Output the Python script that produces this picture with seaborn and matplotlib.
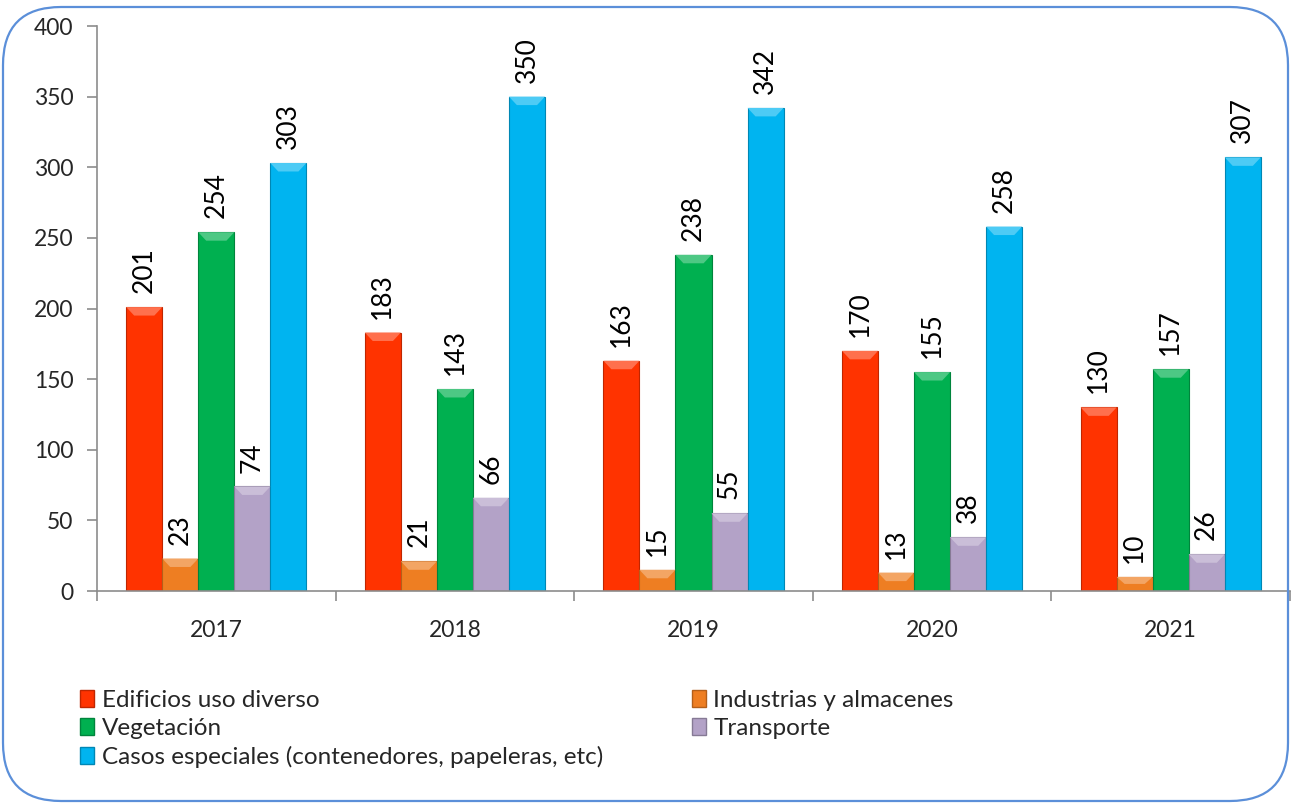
import numpy as np
import pandas as pd
import matplotlib.pyplot as plt
import seaborn as sns
from matplotlib.patches import FancyBboxPatch, Polygon, Patch
from matplotlib.colors import to_rgb

# Data
years = ['2017', '2018', '2019', '2020', '2021']
categories = ['Edificios uso diverso', 'Industrias y almacenes', 'Vegetación',
              'Transporte', 'Casos especiales (contenedores, papeleras, etc)']
edificios = [201, 183, 163, 170, 130]
industrias = [23, 21, 15, 13, 10]
vegetacion = [254, 143, 238, 155, 157]
transporte = [74, 66, 55, 38, 26]
especiales = [303, 350, 342, 258, 307]
colors = ['#FF3300', '#EE7E22', '#00B050', '#B3A2C7', '#00B4F0']

series = [edificios, industrias, vegetacion, transporte, especiales]
rows = []
for cat, vals in zip(categories, series):
    for yr, v in zip(years, vals):
        rows.append({'year': yr, 'cat': cat, 'value': v})
df = pd.DataFrame(rows)

sns.set_theme(style='white')
plt.rcParams['font.family'] = ['Lato', 'DejaVu Sans']

fig = plt.figure(figsize=(12.92, 8.05), dpi=100)
ax = fig.add_axes([97 / 1292, 1 - 591 / 805, (1290 - 97) / 1292, (591 - 26) / 805])

sns.barplot(data=df, x='year', y='value', hue='cat', hue_order=categories,
            order=years, palette=colors, width=0.755, gap=0, ax=ax,
            legend=False, saturation=1, errorbar=None)


def shade(c, f):
    r = np.array(to_rgb(c))
    if f > 0:
        return tuple(r + (1 - r) * f)
    return tuple(r * (1 + f))


# bevel-ish look and value labels
for container, col in zip(ax.containers, colors):
    for bar in container:
        x0, w, h = bar.get_x(), bar.get_width(), bar.get_height()
        bar.set_edgecolor(shade(col, -0.25))
        bar.set_linewidth(0.8)
        dx = w * 0.22
        dy = min(6.0, h / 2)
        top = Polygon([(x0, h), (x0 + w, h), (x0 + w - dx, h - dy), (x0 + dx, h - dy)],
                      closed=True, facecolor=shade(col, 0.3), edgecolor='none', zorder=3)
        ax.add_patch(top)
    ax.bar_label(container, labels=[str(int(b.get_height())) for b in container],
                 rotation=90, padding=10, fontsize=19, color='black')

ax.set_ylim(0, 400)
ax.set_xlim(-0.5, 4.5)
ax.set_yticks(range(0, 401, 50))
ax.set_xlabel('')
ax.set_ylabel('')
for s in ['top', 'right']:
    ax.spines[s].set_visible(False)
for s in ['left', 'bottom']:
    ax.spines[s].set_color('#8C8C8C')
    ax.spines[s].set_linewidth(1.2)
ax.tick_params(axis='y', which='major', left=True, length=7, width=1.2,
               color='#8C8C8C', labelsize=16.5, pad=10)
ax.tick_params(axis='x', which='major', bottom=False, labelsize=16.5, pad=15)
ax.set_xticks(np.arange(-0.5, 5, 1), minor=True)
ax.tick_params(axis='x', which='minor', bottom=True, length=7, width=1.2, color='#8C8C8C')

# legend (row-wise order in two columns)
handles = [Patch(facecolor=c, edgecolor=shade(c, -0.25)) for c in colors]
idx = [0, 2, 4, 1, 3]
fig.legend([handles[i] for i in idx], [categories[i] for i in idx], ncol=2,
           loc='upper left', bbox_to_anchor=(70 / 1292, 1 - 680 / 805),
           frameon=False, fontsize=17.5, handlelength=0.6, handleheight=0.7,
           handletextpad=0.3, labelspacing=0.3, columnspacing=3.65,
           borderaxespad=0)

# rounded outer border
border = FancyBboxPatch((3 / 1292, 4 / 805), 1285 / 1292, 794 / 805,
                        boxstyle='round,pad=0,rounding_size=0.045',
                        transform=fig.transFigure, facecolor='none',
                        edgecolor='#5B8FD9', linewidth=1.6,
                        mutation_aspect=1292 / 805)
fig.patches.append(border)

fig.savefig('out.png', dpi=100)
